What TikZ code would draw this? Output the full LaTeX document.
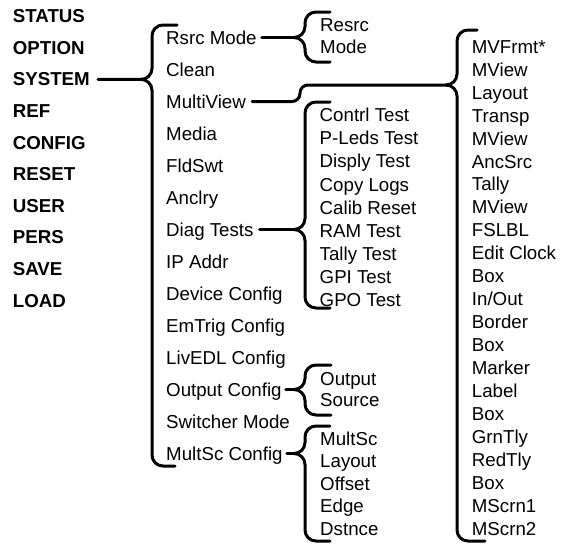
\documentclass[tikz,border=0pt]{standalone}
\usepackage{fontspec}
\setmainfont{Liberation Sans}
\usepackage{tikz}
\usetikzlibrary{positioning}

\tikzset{
    entry/.style={anchor=base west, inner sep=0pt, text height=13pt, text depth=0pt},
    mainentry/.style={entry, font=\fontsize{18.7}{22}\selectfont\bfseries},
    wire/.style={line width=3pt, line cap=round, rounded corners=8pt},
    bracepath/.style={line width=3pt, line cap=round, rounded corners=11pt}
}

% curly bracket: name of tip, x of stem, top, middle, bottom, top end, bottom end
\newcommand{\menubrace}[7]{%
    \coordinate (#1) at (#2-11,#4);
    \draw[bracepath] (#6,#3) -- (#2,#3) -- (#2,#4) -- (#1);
    \draw[bracepath] (#1) -- (#2,#4) -- (#2,#5) -- (#7,#5);
}

\begin{document}
\begin{tikzpicture}[x=1pt, y=-1pt, font=\fontsize{18.7}{22}\selectfont]

    \fill[white] (0,0) rectangle (569,546);
    \useasboundingbox (0,0) rectangle (569,546);

    % Top level menu
    \foreach \t [count=\i] in {STATUS,OPTION,SYSTEM,REF,CONFIG,RESET,USER,PERS,SAVE,LOAD}
        \node[mainentry] (top\i) at (12.7,{22.7+31.6*(\i-1)}) {\t};

    % System menu
    \foreach \t [count=\i] in {Rsrc Mode,Clean,MultiView,Media,FldSwt,Anclry,Diag Tests,IP Addr,
        Device Config,EmTrig Config,LivEDL Config,Output Config,Switcher Mode,MultSc Config}
        \node[entry] (sys\i) at (166,{44+32*(\i-1)}) {\t};

    % Rsrc Mode items
    \foreach \t [count=\i] in {Resrc,Mode}
        \node[entry] (rsrc\i) at (320,{31.7+21.7*(\i-1)}) {\t};

    % Diag Tests items
    \foreach \t [count=\i] in {Contrl Test,P-Leds Test,Disply Test,Copy Logs,Calib Reset,
        RAM Test,Tally Test,GPI Test,GPO Test}
        \node[entry] (diag\i) at (319.5,{121.7+23.1*(\i-1)}) {\t};

    % Output Config items
    \foreach \t [count=\i] in {Output,Source}
        \node[entry] (out\i) at (320,{385+21.7*(\i-1)}) {\t};

    % MultSc Config items
    \foreach \t [count=\i] in {MultSc,Layout,Offset,Edge,Dstnce}
        \node[entry] (msc\i) at (320,{445+22.5*(\i-1)}) {\t};

    % MultiView items
    \foreach \t [count=\i] in {MVFrmt*,MView,Layout,Transp,MView,AncSrc,Tally,MView,FSLBL,
        Edit Clock,Box,In/Out,Border,Box,Marker,Label,Box,GrnTly,RedTly,Box,MScrn1,MScrn2}
        \node[entry] (mv\i) at (471.7,{53.3+22.94*(\i-1)}) {\t};

    % Brackets
    \menubrace{systip}{152}{25}{79.4}{466}{177}{175}
    \menubrace{rsrctip}{305}{12}{37.5}{62}{330}{330}
    \menubrace{diagtip}{305}{102}{229.5}{308}{330}{330}
    \menubrace{outtip}{305}{365}{389.5}{415}{331}{331}
    \menubrace{msctip}{305}{426}{453.5}{541}{330}{330}
    \menubrace{mvtip}{457}{30}{85}{541}{477}{485}

    % Connectors
    \draw[wire] ([xshift=8pt]top3.east) -- (systip);
    \draw[wire] ([xshift=5pt]sys1.east) -- (rsrctip);
    \draw[wire] ([xshift=6pt]sys3.east) -- (300,101.5) -- (300,85) -- (mvtip);
    \draw[wire] ([xshift=6pt]sys7.east) -- (diagtip);
    \draw[wire] ([xshift=4pt]sys12.east) -- (outtip);
    \draw[wire] ([xshift=4pt]sys14.east) -- (msctip);

\end{tikzpicture}
\end{document}
